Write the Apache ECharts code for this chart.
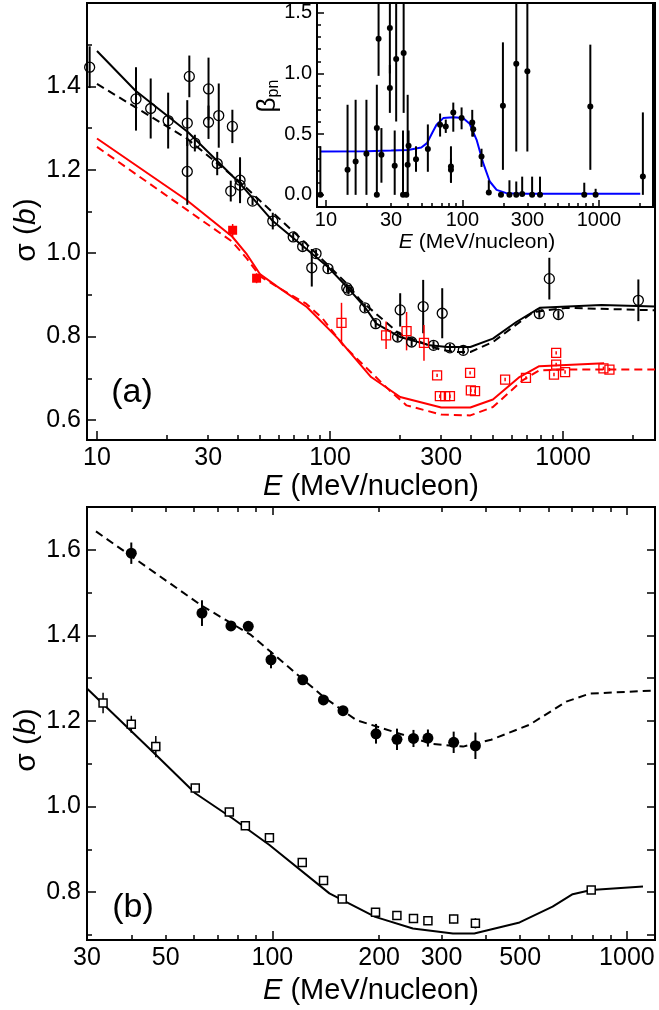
<!DOCTYPE html>
<html>
<head>
<meta charset="utf-8">
<script src="https://cdn.jsdelivr.net/npm/echarts@6/dist/echarts.min.js"></script>
<style>
  html, body { margin: 0; padding: 0; background: #fff; }
  #main { width: 659px; height: 1010px; }
</style>
</head>
<body>
<div id="main"></div>
<script>
var FONT = '"Liberation Sans", Arial, Helvetica, sans-serif';

// ---- (a) 主图数据 ----
// 黑色空心圆
var aOpenE   = [9.3, 14.7, 17.0, 20.2, 24.4, 24.4, 24.9, 26.3, 30.1, 30.1, 32.8, 33.3, 38.1, 37.5, 41.1, 41.1, 46.5, 56.8, 69.5, 76.3, 83.5, 87.1, 98, 118, 120, 141, 157, 195, 200, 224, 251, 278, 303, 327, 373, 791, 873, 955, 2104];
var aOpenSig = [1.446, 1.370, 1.347, 1.318, 1.312, 1.196, 1.424, 1.264, 1.394, 1.314, 1.215, 1.330, 1.304, 1.149, 1.175, 1.163, 1.125, 1.077, 1.039, 1.016, 0.965, 0.999, 0.963, 0.917, 0.911, 0.869, 0.831, 0.799, 0.864, 0.787, 0.872, 0.779, 0.856, 0.773, 0.767, 0.855, 0.939, 0.853, 0.887];
var aOpenErr = [0.05, 0.076, 0.072, 0.067, 0.055, 0.08, 0.05, 0.02, 0.075, 0.04, 0.028, 0.077, 0.04, 0.025, 0.055, 0.03, 0.01, 0.02, 0.01, 0.01, 0.045, 0.01, 0.01, 0.01, 0.01, 0.01, 0.01, 0.01, 0.04, 0.01, 0.064, 0.01, 0.06, 0.01, 0.01, 0.01, 0.05, 0.01, 0.05];
// 红色空心方块
var aRedE   = [112, 174, 213, 253, 288, 296, 312, 327, 399, 402, 419, 564, 693, 934, 934, 914, 1020, 1490, 1581];
var aRedSig = [0.833, 0.803, 0.813, 0.785, 0.707, 0.657, 0.657, 0.657, 0.713, 0.671, 0.669, 0.697, 0.701, 0.761, 0.733, 0.709, 0.715, 0.724, 0.721];
var aRedErr = [0.048, 0.033, 0.046, 0.043, 0.004, 0.004, 0.004, 0.004, 0.004, 0.004, 0.004, 0.004, 0.004, 0.004, 0.004, 0.004, 0.004, 0.004, 0.004];
// 红色实心方块
var aRedFillE   = [38.2, 48.4];
var aRedFillSig = [1.055, 0.940];
var aRedFillErr = [0.015, 0.012];
// 曲线
var aBlackSolidE = [10, 14.6, 24.6, 41.1, 56.8, 98, 120, 141, 158, 200, 268, 318, 400, 500, 630, 794, 1460, 2480];
var aBlackSolidS = [1.485, 1.39, 1.29, 1.167, 1.077, 0.967, 0.915, 0.871, 0.831, 0.799, 0.779, 0.775, 0.775, 0.795, 0.835, 0.869, 0.876, 0.872];
var aBlackDashE  = [10, 24.3, 41, 79, 118, 135, 200, 300, 350, 400, 500, 745, 1040, 2480];
var aBlackDashS  = [1.406, 1.275, 1.171, 1.023, 0.927, 0.887, 0.805, 0.768, 0.763, 0.763, 0.787, 0.859, 0.869, 0.863];
var aRedSolidE   = [10, 24.3, 38, 44, 50, 59, 79.5, 100, 110, 150, 200, 300, 400, 500, 650, 790, 1500];
var aRedSolidS   = [1.275, 1.127, 1.040, 0.997, 0.950, 0.921, 0.871, 0.815, 0.791, 0.703, 0.655, 0.630, 0.630, 0.649, 0.703, 0.729, 0.736];
var aRedDashE    = [10, 38, 44, 50, 59, 79, 93, 114, 180, 213, 300, 400, 500, 670, 790, 1040, 2480];
var aRedDashS    = [1.255, 1.028, 0.987, 0.945, 0.920, 0.879, 0.843, 0.779, 0.671, 0.635, 0.613, 0.611, 0.631, 0.695, 0.719, 0.721, 0.721];

// ---- 插图 beta_pn ----
var inE    = [9.1, 14.4, 16.5, 19.8, 23.6, 23.6, 24.3, 25.5, 29.4, 29.4, 31.9, 32.7, 37.1, 36.7, 38.8, 39.7, 40.3, 45.7, 55.8, 68.6, 75.5, 82.4, 82.4, 85.7, 98.6, 118, 120, 138, 156, 191.6, 198, 221, 248, 248, 274, 299, 324, 370, 781, 865, 946, 2099];
var inBeta = [0, 0.206, 0.275, 0.338, 0.55, 0, 1.286, 0.33, 1.374, 0.88, 0.239, 1.119, 1.168, 0, 0, 0.247, 0.404, 0.294, 0.377, 0.577, 0.563, 0.234, 0.206, 0.679, 0.632, 0.596, 0.541, 0.316, 0.019, 0, 0.734, 0, 1.08, 0, 0.008, 1.017, 0, 0, 0, 0.728, 0, 0.151];
var inLo   = [0, 0, 0, 0, 0, 0, 0.98, 0.1, 1.0, 0.675, 0, 0.604, 0.675, 0, 0, 0, 0.27, 0.19, 0.19, 0.48, 0.51, 0.1, 0.1, 0.52, 0.54, 0.48, 0.48, 0.23, 0, 0, 0.206, 0, 0.357, 0, 0, 0.357, 0, 0, 0, 0.206, 0, 0];
var inHi   = [0.4, 0.742, 0.783, 0.783, 0.907, 0, 1.7, 0.55, 1.7, 1.07, 0.53, 1.7, 1.7, 0.53, 0, 0.824, 0.53, 0.4, 0.58, 0.67, 0.62, 0.4, 0.3, 0.76, 0.72, 0.70, 0.6, 0.38, 0.12, 0, 1.256, 0.12, 1.7, 0.11, 0.15, 1.7, 0.15, 0.15, 0.1, 1.237, 0.05, 0.679];
var inCurveE = [9.2, 20, 30, 40, 50, 55, 60, 64.6, 72.4, 85.7, 101, 113, 127, 142, 158.6, 178, 210, 300, 2009];
var inCurveB = [0.357, 0.36, 0.365, 0.37, 0.39, 0.426, 0.51, 0.577, 0.632, 0.64, 0.632, 0.585, 0.453, 0.261, 0.11, 0.041, 0.014, 0.01, 0.01];

// ---- (b) 数据 ----
var bFillE   = [40.0, 63.3, 76.4, 85.5, 99.1, 121.8, 139.3, 158.2, 196, 224.6, 250, 274.6, 324.6, 373.8];
var bFillSig = [1.592, 1.452, 1.422, 1.421, 1.343, 1.296, 1.249, 1.224, 1.170, 1.157, 1.159, 1.160, 1.150, 1.142];
var bFillErr = [0.025, 0.03, 0.01, 0.01, 0.02, 0.01, 0.01, 0.01, 0.023, 0.025, 0.02, 0.02, 0.025, 0.031];
var bSqE   = [33.3, 40.0, 46.9, 60.6, 75.6, 83.9, 98.1, 121.4, 139.4, 157.4, 195.4, 224.5, 250, 274.6, 324.6, 373.8, 793];
var bSqSig = [1.242, 1.192, 1.140, 1.043, 0.987, 0.955, 0.927, 0.869, 0.827, 0.784, 0.753, 0.745, 0.738, 0.733, 0.737, 0.727, 0.805];
var bSqErr = [0.024, 0.02, 0.025, 0.01, 0.008, 0.008, 0.005, 0.005, 0.005, 0.005, 0.008, 0.01, 0.008, 0.008, 0.01, 0.012, 0.008];
var bDashE  = [31.8, 63.3, 87, 119.3, 139, 172.4, 283, 345, 414, 531, 674, 786, 1200];
var bDashS  = [1.643, 1.469, 1.401, 1.304, 1.257, 1.202, 1.146, 1.140, 1.156, 1.191, 1.245, 1.264, 1.271];
var bSolidE = [30, 46.9, 60.6, 77.3, 98.1, 144.8, 195, 249, 323, 371, 498, 617, 703, 793, 1110];
var bSolidS = [1.276, 1.121, 1.031, 0.972, 0.910, 0.797, 0.742, 0.715, 0.703, 0.703, 0.729, 0.766, 0.795, 0.805, 0.813];

// ---- 刻度 ----
var aXLabels = [10, 30, 100, 300, 1000];
var aXMajor  = [10, 100, 1000];
var aXMinor  = [20, 30, 40, 50, 60, 70, 80, 90, 200, 300, 400, 500, 600, 700, 800, 900, 2000];
var bXLabels = [30, 50, 100, 200, 300, 500, 1000];
var bXMajor  = [100, 1000];
var bXMinor  = [40, 50, 60, 70, 80, 90, 200, 300, 400, 500, 600, 700, 800, 900];
var aYLabels = [0.6, 0.8, 1.0, 1.2, 1.4];
var aYMinor  = [0.7, 0.9, 1.1, 1.3, 1.5];
var inYLabels = [0, 0.5, 1.0, 1.5];
var inYMinor  = [0.1, 0.2, 0.3, 0.4, 0.6, 0.7, 0.8, 0.9, 1.1, 1.2, 1.3, 1.4];
var bYLabels = [0.8, 1.0, 1.2, 1.4, 1.6];
var bYMinor  = [0.7, 0.9, 1.1, 1.3, 1.5];

function zip(xs, ys) { return xs.map(function (x, i) { return [x, ys[i]]; }); }
function bars(xs, ys, err) { return xs.map(function (x, i) { return [x, ys[i] - err[i], ys[i] + err[i]]; }); }
function bars2(xs, lo, hi) { return xs.map(function (x, i) { return [x, lo[i], hi[i]]; }); }

//坐标轴（onZero 关掉，不然插图的 x 轴会跑到 0 的位置）
function xAx(grid, min, max, pos, ticks, len, labels, fs, margin, z) {
  return {
    type: 'log', logBase: 10, gridIndex: grid, min: min, max: max, position: pos, z: z,
    axisLine: { show: false, onZero: false }, splitLine: { show: false }, minorTick: { show: false },
    axisTick: { show: true, inside: true, length: len, customValues: ticks, lineStyle: { color: '#000', width: 1.5 } },
    axisLabel: labels ? {
      show: true, customValues: labels, margin: margin, color: '#000', fontSize: fs, fontFamily: FONT,
      formatter: function (v) { return String(Math.round(v)); }
    } : { show: false }
  };
}
function yAx(grid, min, max, pos, ticks, len, labels, fs, margin, z) {
  return {
    type: 'value', gridIndex: grid, min: min, max: max, position: pos, z: z,
    axisLine: { show: false, onZero: false }, splitLine: { show: false }, minorTick: { show: false },
    axisTick: { show: true, inside: true, length: len, customValues: ticks, lineStyle: { color: '#000', width: 1.5 } },
    axisLabel: labels ? {
      show: true, customValues: labels, margin: margin, color: '#000', fontSize: fs, fontFamily: FONT,
      formatter: function (v) { return v.toFixed(1); }
    } : { show: false }
  };
}

function errSeries(xi, yi, data, color, w, z) {
  return {
    type: 'custom', xAxisIndex: xi, yAxisIndex: yi, data: data, z: z, clip: true, silent: true,
    renderItem: function (params, api) {
      var p1 = api.coord([api.value(0), api.value(1)]);
      var p2 = api.coord([api.value(0), api.value(2)]);
      return { type: 'line', shape: { x1: p1[0], y1: p1[1], x2: p2[0], y2: p2[1] }, style: { stroke: color, lineWidth: w } };
    }
  };
}
function scat(xi, yi, data, symbol, size, fill, stroke, bw, z) {
  return {
    type: 'scatter', xAxisIndex: xi, yAxisIndex: yi, data: data, symbol: symbol, symbolSize: size, z: z, silent: true,
    itemStyle: { color: fill, borderColor: stroke, borderWidth: bw, opacity: 1 }
  };
}
function curve(xi, yi, data, color, dashed, z) {
  return {
    type: 'line', xAxisIndex: xi, yAxisIndex: yi, data: data, z: z, silent: true,
    symbol: 'none', showSymbol: false, clip: true,
    lineStyle: { color: color, width: 2, type: dashed ? [8, 5] : 'solid' }
  };
}

var RED = '#ff0000';
var chart = echarts.init(document.getElementById('main'), null, { renderer: 'canvas' });

chart.setOption({
  animation: false,
  backgroundColor: '#fff',
  grid: [
    { left: 87, top: 3, width: 568, height: 437, show: true, borderColor: '#000', borderWidth: 2, backgroundColor: 'transparent' },
    { left: 317, top: 3, width: 336, height: 204, show: true, borderColor: '#000', borderWidth: 2, backgroundColor: '#fff', z: 5 },
    { left: 87, top: 507, width: 568, height: 433, show: true, borderColor: '#000', borderWidth: 2, backgroundColor: 'transparent' }
  ],
  xAxis: [
    xAx(0, 9.06, 2480, 'bottom', aXMajor, 9, aXLabels, 25, 6, 0),
    xAx(0, 9.06, 2480, 'bottom', aXMinor, 5, null, 0, 0, 0),
    xAx(1, 8.6, 2490, 'bottom', aXMajor, 7, aXLabels, 20, 3, 6),
    xAx(1, 8.6, 2490, 'bottom', aXMinor, 4, null, 0, 0, 6),
    xAx(2, 30, 1200, 'bottom', bXMajor, 9, bXLabels, 25, 6, 0),
    xAx(2, 30, 1200, 'bottom', bXMinor, 5, null, 0, 0, 0),
    xAx(2, 30, 1200, 'top', bXMajor, 8, null, 0, 0, 0),
    xAx(2, 30, 1200, 'top', bXMinor, 5, null, 0, 0, 0)
  ],
  yAxis: [
    yAx(0, 0.552, 1.60, 'left', aYLabels, 9, aYLabels, 25, 6, 0),
    yAx(0, 0.552, 1.60, 'left', aYMinor, 5, null, 0, 0, 0),
    yAx(1, -0.1, 1.58, 'left', inYLabels, 7, inYLabels, 20, 5, 6),
    yAx(1, -0.1, 1.58, 'left', inYMinor, 4, null, 0, 0, 6),
    yAx(2, 0.688, 1.70, 'left', bYLabels, 9, bYLabels, 25, 6, 0),
    yAx(2, 0.688, 1.70, 'left', bYMinor, 5, null, 0, 0, 0),
    yAx(2, 0.688, 1.70, 'right', bYLabels, 8, null, 0, 0, 0),
    yAx(2, 0.688, 1.70, 'right', bYMinor, 8, null, 0, 0, 0)
  ],
  series: [
    // (a)
    curve(0, 0, zip(aBlackSolidE, aBlackSolidS), '#000', false, 2),
    curve(0, 0, zip(aBlackDashE, aBlackDashS), '#000', true, 2),
    curve(0, 0, zip(aRedSolidE, aRedSolidS), RED, false, 2),
    curve(0, 0, zip(aRedDashE, aRedDashS), RED, true, 2),
    errSeries(0, 0, bars(aOpenE, aOpenSig, aOpenErr), '#000', 2, 3),
    errSeries(0, 0, bars(aRedE, aRedSig, aRedErr), RED, 1.5, 3),
    errSeries(0, 0, bars(aRedFillE, aRedFillSig, aRedFillErr), RED, 1.5, 3),
    scat(0, 0, zip(aOpenE, aOpenSig), 'circle', 10, 'rgba(0,0,0,0)', '#000', 1.3, 4),
    scat(0, 0, zip(aRedE, aRedSig), 'rect', 9, 'rgba(0,0,0,0)', RED, 1.3, 4),
    scat(0, 0, zip(aRedFillE, aRedFillSig), 'rect', 9, RED, RED, 0, 4),
    // 插图
    curve(2, 2, zip(inCurveE, inCurveB), '#0000ff', false, 7),
    errSeries(2, 2, bars2(inE, inLo, inHi), '#000', 2, 8),
    scat(2, 2, zip(inE, inBeta), 'circle', 6, '#000', '#000', 0, 9),
    // (b)
    curve(4, 4, zip(bDashE, bDashS), '#000', true, 2),
    curve(4, 4, zip(bSolidE, bSolidS), '#000', false, 2),
    errSeries(4, 4, bars(bFillE, bFillSig, bFillErr), '#000', 2, 3),
    errSeries(4, 4, bars(bSqE, bSqSig, bSqErr), '#000', 1.5, 3),
    scat(4, 4, zip(bFillE, bFillSig), 'circle', 11, '#000', '#000', 0, 4),
    scat(4, 4, zip(bSqE, bSqSig), 'rect', 8, '#fff', '#000', 1.5, 4)
  ],
  graphic: [
    { type: 'text', x: 132, y: 393, z: 20, style: { text: '(a)', font: '34px ' + FONT, fill: '#000', align: 'center', verticalAlign: 'middle' } },
    { type: 'text', x: 133, y: 908, z: 20, style: { text: '(b)', font: '34px ' + FONT, fill: '#000', align: 'center', verticalAlign: 'middle' } },
    { type: 'text', x: 371, y: 487, z: 20, style: {
        text: '{i|E} (MeV/nucleon)', font: '29px ' + FONT, fill: '#000', align: 'center', verticalAlign: 'middle',
        rich: { i: { fontStyle: 'italic', fontSize: 29, fontFamily: FONT } } } },
    { type: 'text', x: 371, y: 991, z: 20, style: {
        text: '{i|E} (MeV/nucleon)', font: '29px ' + FONT, fill: '#000', align: 'center', verticalAlign: 'middle',
        rich: { i: { fontStyle: 'italic', fontSize: 29, fontFamily: FONT } } } },
    { type: 'text', x: 477, y: 242, z: 20, style: {
        text: '{i|E} (MeV/nucleon)', font: '21px ' + FONT, fill: '#000', align: 'center', verticalAlign: 'middle',
        rich: { i: { fontStyle: 'italic', fontSize: 21, fontFamily: FONT } } } },
    { type: 'text', x: 27, y: 230, rotation: Math.PI / 2, z: 20, style: {
        text: 'σ ({i|b})', font: '30px ' + FONT, fill: '#000', align: 'center', verticalAlign: 'middle',
        rich: { i: { fontStyle: 'italic', fontSize: 30, fontFamily: FONT } } } },
    { type: 'text', x: 27, y: 740, rotation: Math.PI / 2, z: 20, style: {
        text: 'σ ({i|b})', font: '30px ' + FONT, fill: '#000', align: 'center', verticalAlign: 'middle',
        rich: { i: { fontStyle: 'italic', fontSize: 30, fontFamily: FONT } } } },
    { type: 'text', x: 268, y: 96, rotation: Math.PI / 2, z: 20, style: {
        text: '{b|β}{s|pn}', fill: '#000', align: 'center', verticalAlign: 'middle',
        rich: {
          b: { fontSize: 26, fontFamily: FONT },
          s: { fontSize: 16, fontFamily: FONT, padding: [12, 0, 0, 0] }
        } } }
  ]
});
</script>
</body>
</html>
